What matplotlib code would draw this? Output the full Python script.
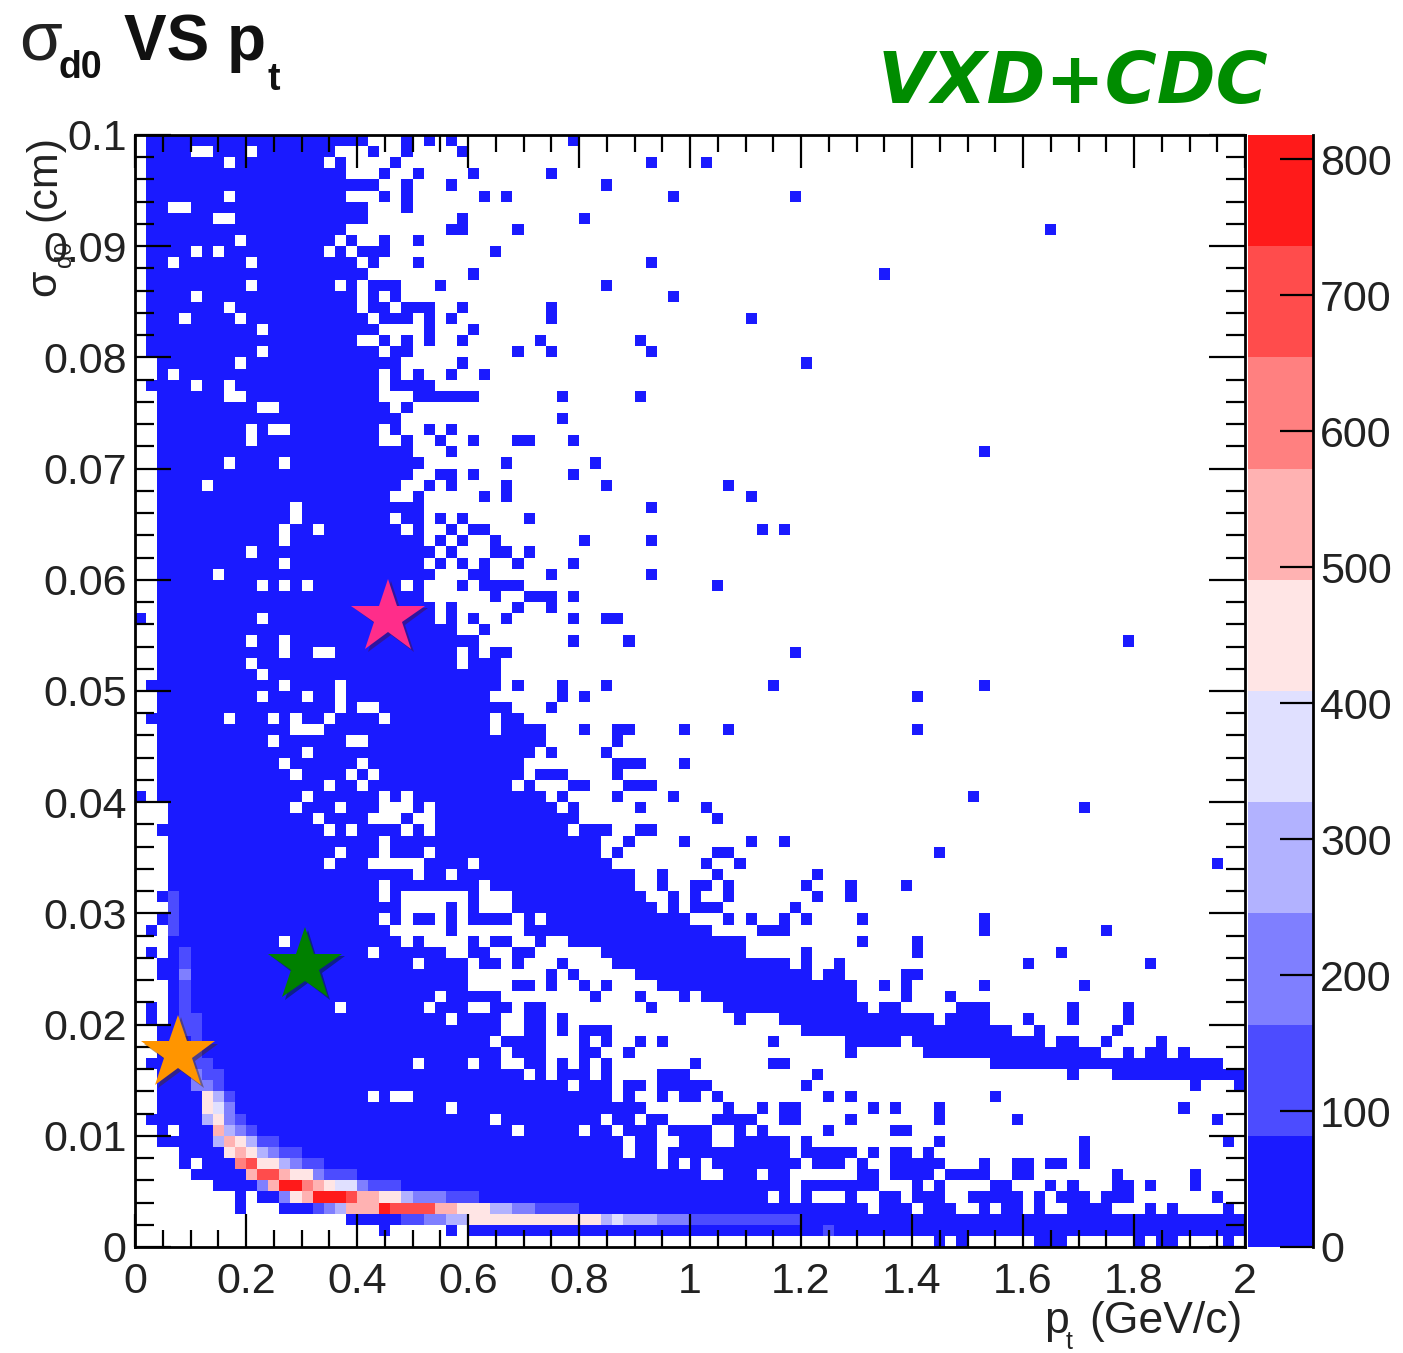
import numpy as np
import matplotlib
matplotlib.use('Agg')
import matplotlib.pyplot as plt
import matplotlib.patheffects as pe
from matplotlib.colors import ListedColormap, BoundaryNorm
from matplotlib.ticker import MultipleLocator

# filled bins per row of the histogram, top row first (column numbers, 0-99)
ROW_CELLS = [
    "1-20 24 26 28 39",
    "1-4 7-9 11-17 21 24 29",
    "1-7 9-16 18 23 46 51",
    "1-18 22 25 30 37",
    "1-21 24 28 42",
    "1-7 9-18 22 24 31 33 48 59",
    "1-2 5-20 24",
    "1-6 9-20 29 40",
    "1-18 28-29 34 82",
    "1-8 10-17 19 22 25",
    "1-4 6 8-16 18 20-22 32",
    "1-2 4-9 11-19 21 25 46",
    "1-20 30 67",
    "1-9 11-17 19 21-23 27 42",
    "1-4 6-19 21 23 48",
    "1-7 9-19 21-22 24-26 29 37",
    "1-3 5-8 10-20 22-24 26 28 37 55",
    "1-10 12-21 26 30",
    "1-19 22 24 26 29 36 45",
    "1-10 12-21 23-24 34 37 46",
    "2-8 10-23 29 60",
    "2 4-21 23 25 28 31",
    "1-4 6-7 9-21 23-26",
    "2-7 10-21 25-30 38 45",
    "2-10 13-22 24",
    "2-23 38",
    "2-9 11 14-21 23 26 28",
    "2-9 11-21 24 27 30 34-35 39",
    "2-24 28 76",
    "2-7 9-12 14-25 33 41",
    "2-24 27-28 30 39",
    "2-5 7-23 26 28 33 42 53",
    "2-22 25 31 33 55",
    "2-13 15-25 46",
    "2-13 15-22 24-25 27 29 35",
    "2-12 14-15 17-23 25 28 30-31 56 58",
    "2-12 14-25 27 29 32 40 46",
    "2-9 11-26 28 32-33 35",
    "2-12 14-25 27 29 31 34 39",
    "2-6 8-26 30-31 37 46",
    "2-10 12 14 16-23 25 29 31-34 52",
    "2-25 32 35-37 39",
    "2-26 28 34 37",
    "0 2-10 12-26 28 30 33 39 42-43",
    "2-28 31",
    "2-9 11-12 14-30 39 44 89",
    "2-12 14-15 18-28 30 32-33 59",
    "2-9 11-28 30-32",
    "2-10 12-32",
    "1-12 14-17 19-32 34 38 42 57 76",
    "2-10 12-14 16-17 19-31 38 40 70",
    "2-17 19 22-33 37",
    "1-7 9-11 13 15-16 18-21 23-31 33-34",
    "2-13 17-31 33-36 40 43-44 49 53 70",
    "2-11 13-18 21-36 43",
    "2-14 16-35 37 42",
    "2-12 14-19 21-34 43-45 49",
    "2-13 15-18 20 22-34 36-38 43",
    "2-16 18-19 21-33 35 39-40 44-46",
    "0 2-14 16-21 23 25-36 38 43 48 75",
    "3-13 15-17 19-21 25 27-37 39 45 51 85",
    "3-15 17-20 24 27-39 52",
    "2-16 18 20-23 25 27-38 40-42 45-46",
    "3-21 23-41 44 49 55 58",
    "3-17 19-21 23-25 27-41 43 52-53 72",
    "3-16 18-20 26-29 31-42 51 54 97",
    "3-24 26-27 29-44 47 52 61",
    "3-21 23-30 32-44 47 50-51 53 60 64 69",
    "2-21 23 30 34-45 48 50 53 61 64",
    "3-23 28 30 34-46 48 50-52 59",
    "2-21 23 25-26 28 30-33 35 37-49 53 55 58 60 65 76",
    "1 3-22 28 35-51 56-58 76 87",
    "3-12 14-23 25 30 32-33 36 39-54 65 70",
    "1 3-20 22-27 30-31 34-35 42-54 60 70 83",
    "2-24 26-29 31-32 34 38 43-58 60 63 80 91",
    "2-29 37 39 45-60 62-63 69-70",
    "3-29 34-35 37 40 42 47-64 67 69 76 85",
    "3-26 28-32 41 45 49 51-64 69 73",
    "1 3-17 19-25 27-29 32-33 35-36 46 53-65 67-68 74-76 84 89",
    "1 3-27 29-32 35-36 38 54 58-71 73-76 80 84 89",
    "2-32 35-36 38 40-42 60-78 81 88",
    "2-31 33-36 40 42 45 47 57 64-68 70-81 83-84 87 92",
    "2-32 34-36 40-41 44 64 71-86 89 91-92 94",
    "1-24 26-29 31-32 35-36 38 40 42 50 57-58 77-97",
    "2-34 36 38-40 42 47-49 61 84 88-99",
    "2-38 40-42 44-45 47-51 60 95 99",
    "2-20 22 25-42 44 47 49-50 52 62 64 77",
    "2-27 29-45 53 56 58-59 66 68 72 94",
    "1-31 33-41 43-44 46-47 52-55 58-59 64 72 79 97",
    "2 4-33 35-39 41-42 44-46 48-51 54 56 62 68-69",
    "2-43 45-46 49-51 54-58 60 72 85 98",
    "4-43 45-46 48-58 60-64 66 68-69 71 85",
    "4 6-46 48 50 52-59 61-63 65 68-72 76 79-80 82-83 85",
    "5-50 53-55 57-58 65-66 68-71 73-76 79-80 88 95",
    "7-58 60-66 70 72 77-78 82 84 88-89 91 95",
    "9 11-56 58 60 64 67-68 70-72 75-79 81 83-85 87-89 97",
    "9 13-65 67-69 71-73 76 78-79 81 84-87 91 93 98",
    "19-99",
    "22 28 30-99",
    "72 74 81-83 90 92-93 98",
]
LOW_COUNT = 30

# the populated ridge: row from top, first column, counts in following columns
RIDGE_ROWS = [68, 69, 70, 71, 73, 74, 75, 76, 77, 78, 79, 80, 81, 82, 83, 84, 85,
              86, 87, 88, 89, 90, 91, 92, 93, 94, 95, 96, 97, 98]
RIDGE_START = [3, 3, 3, 3, 4, 4, 4, 4, 4, 4, 4, 4, 5, 5, 5, 5, 5,
               6, 6, 6, 7, 7, 8, 9, 10, 11, 13, 16, 24, 62]
RIDGE_COUNTS = [
    [100], [100], [90], [100],
    [100], [110], [170], [110], [130], [130], [90, 90], [100, 130],
    [150], [130], [130, 100], [200, 130, 100], [230, 210, 110],
    [430, 280, 130],
    [420, 330, 220],
    [270, 430, 230, 100],
    [520, 300, 220, 130],
    [300, 540, 440, 250, 130, 130],
    [460, 540, 430, 280, 220, 130, 110],
    [620, 660, 460, 420, 280, 200, 130, 130],
    [530, 670, 670, 500, 420, 420, 230, 150, 150, 150],
    [220, 560, 800, 800, 650, 540, 470, 400, 400, 200, 120, 120, 120],
    [220, 450, 570, 800, 800, 800, 660, 570, 520, 470, 470, 300, 220, 220, 220, 130, 130, 130],
    [110, 220, 300, 500, 570, 570, 790, 680, 680, 680, 680, 530, 530, 470, 470, 420, 290, 290,
     230, 230, 130, 130, 130, 130],
    [130, 130, 200, 200, 300, 300, 430, 430, 430, 430, 430, 430, 430, 430, 430, 430, 430, 430,
     280, 400, 300, 300, 300, 220, 220, 220, 160, 110, 110, 110, 110, 110, 110, 110, 110, 110],
    [90],
]

LEVEL_COLORS = ['#1a1aff', '#4c4cff', '#7f7fff', '#b2b2ff', '#e0e0ff',
                '#ffe5e5', '#ffb2b2', '#ff8080', '#ff4c4c', '#ff1a1a']
LEVEL_TOP = 818

XTICKS = [0, 0.2, 0.4, 0.6, 0.8, 1, 1.2, 1.4, 1.6, 1.8, 2]
XTICK_LABELS = ['0', '0.2', '0.4', '0.6', '0.8', '1', '1.2', '1.4', '1.6', '1.8', '2']
YTICKS = [0, 0.01, 0.02, 0.03, 0.04, 0.05, 0.06, 0.07, 0.08, 0.09, 0.1]
YTICK_LABELS = ['0', '0.01', '0.02', '0.03', '0.04', '0.05', '0.06', '0.07', '0.08', '0.09', '0.1']
CBAR_TICKS = [0, 100, 200, 300, 400, 500, 600, 700, 800]

STAR_X = [0.456, 0.306, 0.0775]
STAR_Y = [0.0566, 0.0253, 0.0174]
STAR_COLORS = ['#ff2d8a', '#008000', '#ff9500']

W, H = 1403, 1353
plt.rcParams['font.family'] = ['Liberation Sans', 'DejaVu Sans']
TEXT = '#222222'


def px(x, y):
    return x / W, 1 - y / H


counts = np.zeros((100, 100))
for r, cells in enumerate(ROW_CELLS):
    for part in cells.split():
        a, _, b = part.partition('-')
        counts[99 - r, int(a):int(b or a) + 1] = LOW_COUNT
for r, start, vals in zip(RIDGE_ROWS, RIDGE_START, RIDGE_COUNTS):
    counts[99 - r, start:start + len(vals)] = vals

fig = plt.figure(figsize=(W / 100, H / 100), dpi=100)
ax = fig.add_axes([135 / W, 1 - 1247 / H, 1110 / W, 1112 / H])
cax = fig.add_axes([1248 / W, 1 - 1247 / H, 65 / W, 1112 / H])

cmap = ListedColormap(LEVEL_COLORS)
cmap.set_bad('white')
norm = BoundaryNorm(np.linspace(0, LEVEL_TOP, 11), 10)
xedges = np.linspace(0, 2, 101)
yedges = np.linspace(0, 0.1, 101)
mesh = ax.pcolormesh(xedges, yedges, np.ma.masked_equal(counts, 0), cmap=cmap, norm=norm,
                     edgecolors='none', antialiased=False)

ax.set_xlim(0, 2)
ax.set_ylim(0, 0.1)
ax.set_xticks(XTICKS)
ax.set_xticklabels(XTICK_LABELS)
ax.set_yticks(YTICKS)
ax.set_yticklabels(YTICK_LABELS)
ax.xaxis.set_minor_locator(MultipleLocator(0.05))
ax.yaxis.set_minor_locator(MultipleLocator(0.002))
ax.tick_params(axis='x', which='major', direction='in', top=True, length=24, width=1.6,
               labelsize=31, pad=11, labelcolor=TEXT)
ax.tick_params(axis='x', which='minor', direction='in', top=True, length=12, width=1.6)
ax.tick_params(axis='y', which='major', direction='in', right=True, length=26, width=1.6,
               labelsize=31, pad=6, labelcolor=TEXT)
ax.tick_params(axis='y', which='minor', direction='in', right=True, length=14, width=1.6)
for s in ax.spines.values():
    s.set_linewidth(2)

cb = fig.colorbar(mesh, cax=cax, spacing='proportional', ticks=CBAR_TICKS)
cb.outline.set_visible(False)
cb.ax.minorticks_off()
cax.spines['right'].set_visible(True)
cax.spines['right'].set_linewidth(2)
cax.tick_params(axis='y', direction='in', length=24, width=1.6, labelsize=31, pad=5,
                labelcolor=TEXT)

# stars on top of the histogram
for x, y, c in zip(STAR_X, STAR_Y, STAR_COLORS):
    ax.plot([x], [y], marker='*', ms=56, color=c, mec='none', ls='none', clip_on=False, zorder=5,
            path_effects=[pe.SimplePatchShadow(offset=(2, -2), alpha=0.45), pe.Normal()])

# title pieces
fig.text(*px(19, 60), '\u03c3', fontsize=50, color=TEXT, va='baseline')
fig.text(*px(59, 78), 'd0', fontsize=27, fontweight='bold', color='#111111', va='baseline')
fig.text(*px(124, 60), 'VS p', fontsize=46, fontweight='bold', color='#111111', va='baseline')
fig.text(*px(267, 90), 't', fontsize=27, fontweight='bold', color='#111111', va='baseline')

fig.text(*px(878, 103), 'VXD+CDC', fontsize=51, family='DejaVu Sans', fontweight='bold',
         style='italic', color='#008c00', va='baseline')

# axis titles, ROOT style
fig.text(*px(64, 135), '(cm)', fontsize=31, rotation=90, color=TEXT, ha='right', va='top')
fig.text(*px(64, 296), '\u03c3', fontsize=31, rotation=90, color=TEXT, ha='right', va='bottom')
fig.text(*px(76, 267), 'd0', fontsize=17, rotation=90, color=TEXT, ha='right', va='bottom')
fig.text(*px(1243, 1333), '(GeV/c)', fontsize=32, color=TEXT, ha='right', va='baseline')
fig.text(*px(1044, 1333), 'p', fontsize=32, color=TEXT, va='baseline')
fig.text(*px(1066, 1349), 't', fontsize=18, color=TEXT, va='baseline')

fig.savefig('out.png', dpi=100)
